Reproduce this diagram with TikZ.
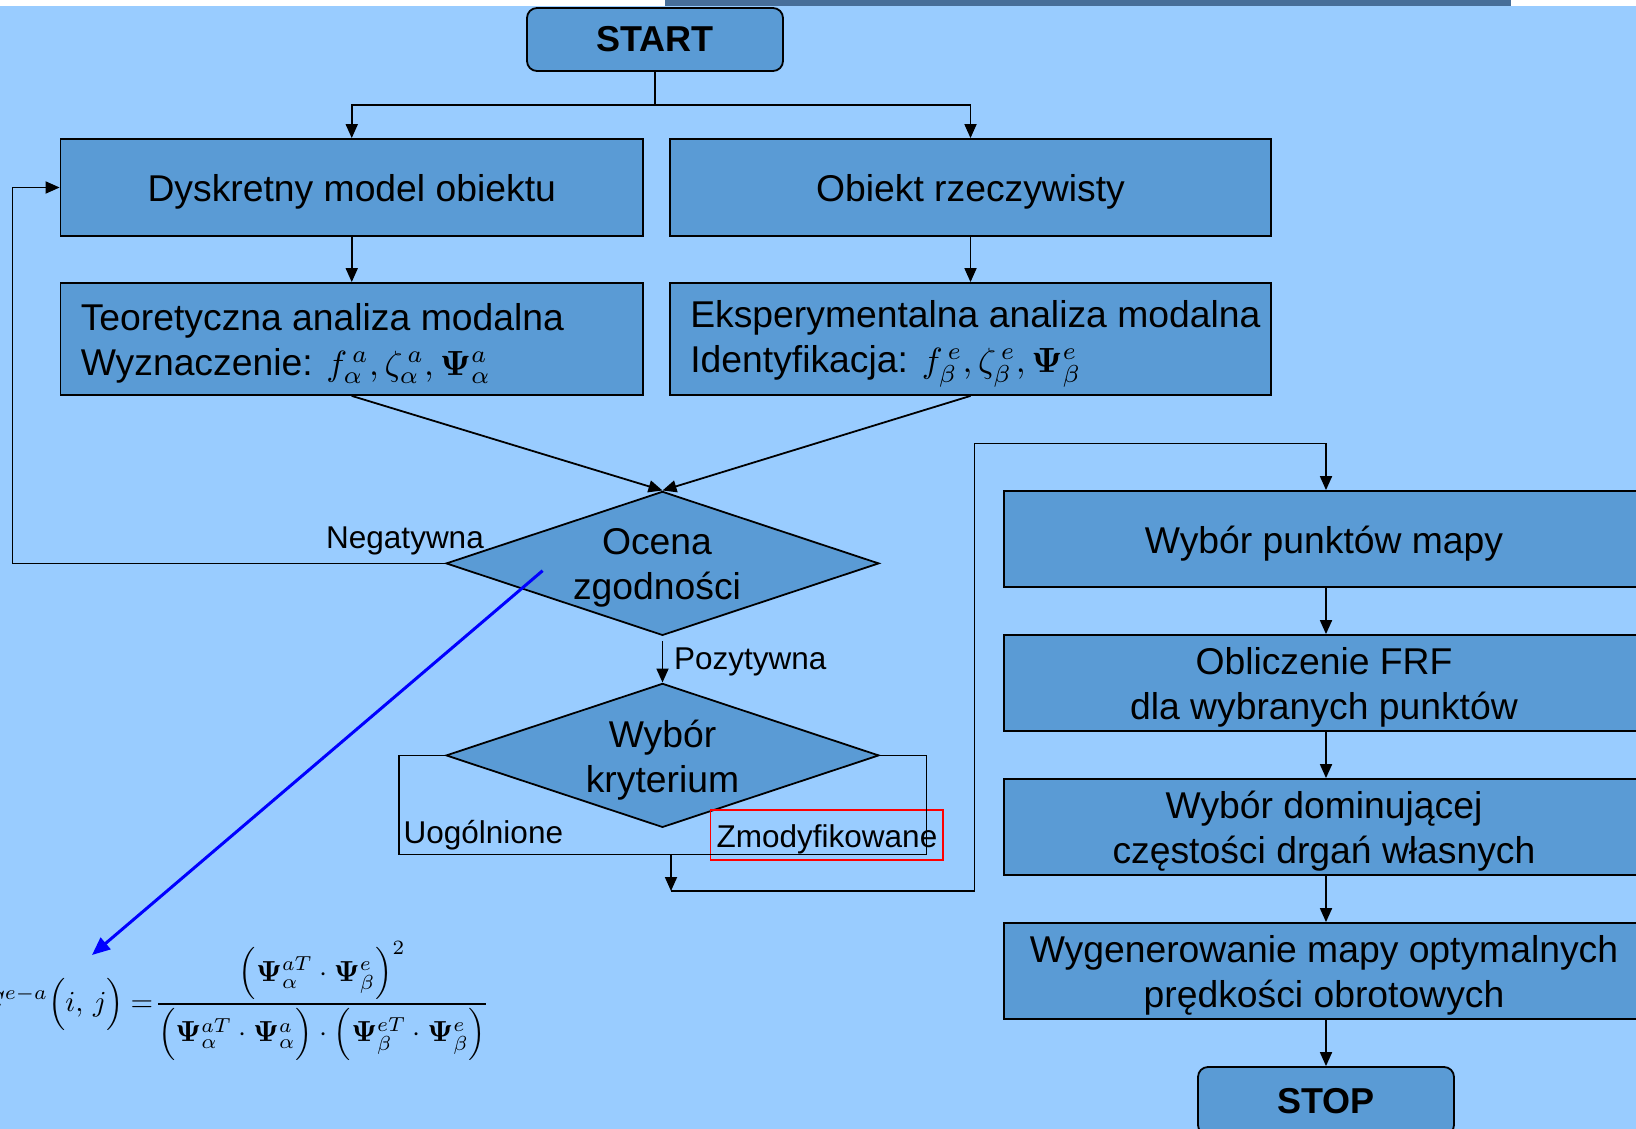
\documentclass[tikz,border=0pt]{standalone}
\usepackage{amsmath}
\usepackage{graphicx}
\usepackage[no-math]{fontspec}
\setmainfont{Liberation Sans}
\usetikzlibrary{arrows.meta,shapes.geometric}
\definecolor{bgblue}{RGB}{153,204,255}
\definecolor{boxblue}{RGB}{90,155,213}
\definecolor{barblue}{RGB}{71,110,153}
\newcommand{\bigmath}[2]{\scalebox{#1}{\fontsize{10}{12}\selectfont$#2$}}
\newcommand{\psph}{\vphantom{\mathbf{\Psi}^{eT}_{\beta}}}
\begin{document}
\begin{tikzpicture}[x=1pt,y=-1pt,
  lbl/.style={font=\fontsize{31.5}{38}\selectfont, inner sep=0pt},
  box/.style={draw=black, line width=1.8pt, fill=boxblue, inner sep=0pt},
  txt/.style={font=\fontsize{37.3}{45}\selectfont, inner sep=0pt, align=center, yshift=-4.5pt},
  term/.style={box, rounded corners=10pt, font=\fontsize{36}{44}\selectfont\bfseries},
  dia/.style={draw=black, line width=1.8pt, fill=boxblue, diamond, inner sep=0pt, minimum width=433pt, minimum height=144pt},
  ln/.style={draw=black, line width=1.8pt},
  arr/.style={ln, -{Triangle[length=14pt,width=12pt]}},
  bluearr/.style={draw={rgb,255:red,0;green,0;blue,255}, line width=3pt, -{Triangle[length=18pt,width=15pt]}},
]
\useasboundingbox (0,0) rectangle (1636,1129);
\clip (0,0) rectangle (1636,1129);
\fill[bgblue] (0,0) rectangle (1636,1129);
\fill[white] (0,0) rectangle (1636,6);
\fill[barblue] (665,0) rectangle (1511,6);

% terminals
\node[term, minimum width=256pt, minimum height=63pt] (start) at (655,39.5) {START};
\node[term, minimum width=256pt, minimum height=68pt] (stop) at (1326,1101) {STOP};

% left/right upper boxes
\node[box, minimum width=582.5pt, minimum height=97pt] (dysk) at (351.75,187.5) {};
\node[txt] (dysktxt) at (dysk) {Dyskretny model obiektu};
\node[box, minimum width=601pt, minimum height=97pt] (obiekt) at (970.5,187.5) {};
\node[txt] (obiekttxt) at (obiekt) {Obiekt rzeczywisty};
\node[box, minimum width=582.5pt, minimum height=112pt] (teor) at (351.75,339) {};
\node[txt, anchor=west, align=left] (teortxt) at ([xshift=21pt]teor.west)
  {Teoretyczna analiza modalna\\Wyznaczenie: \bigmath{3.5}{f^{\,a}_{\alpha}, \zeta^{\,a}_{\alpha}, \mathbf{\Psi}^{a}_{\alpha}}};
\node[box, minimum width=601pt, minimum height=112pt] (eksp) at (970.5,339) {};
\node[txt, anchor=west, align=left] (eksptxt) at ([xshift=21pt]eksp.west)
  {Eksperymentalna analiza modalna\\Identyfikacja: \bigmath{3.5}{f^{\,e}_{\beta},\zeta^{\,e}_{\beta},\mathbf{\Psi}^{e}_{\beta}}};

% diamonds
\node[dia] (ocena) at (662.5,563.4) {};
\node[txt] (ocenatxt) at (657,563.4) {Ocena\\zgodności};
\node[dia] (wybk) at (662.5,755.4) {};
\node[txt] (wybktxt) at (662.5,755.4) {Wybór\\kryterium};

% right column
\node[box, minimum width=644pt, minimum height=96pt] (wpm) at (1326,539) {};
\node[txt] (wpmtxt) at (1324,539) {Wybór punktów mapy};
\node[box, minimum width=644pt, minimum height=96pt] (obl) at (1326,683) {};
\node[txt] (obltxt) at (1324,683) {Obliczenie FRF\\dla wybranych punktów};
\node[box, minimum width=644pt, minimum height=96pt] (dom) at (1326,827) {};
\node[txt] (domtxt) at (1324,827) {Wybór dominującej\\częstości drgań własnych};
\node[box, minimum width=644pt, minimum height=96pt] (wyg) at (1326,971) {};
\node[txt] (wygtxt) at (1324,971) {Wygenerowanie mapy optymalnych\\prędkości obrotowych};

% labels
\node[lbl, anchor=east] (neg) at (484,541) {Negatywna};
\node[lbl, anchor=west] (poz) at (674,662) {Pozytywna};
\node[lbl, anchor=west] (uog) at (403.5,835) {Uogólnione};
\node[draw=red, line width=1.5pt, minimum width=232.5pt, minimum height=50pt, inner sep=0pt] (zmodbox) at (826.75,835) {};
\node[lbl] (zmod) at (827,839) {Zmodyfikowane};

% formula
\node[anchor=east, inner sep=0pt] (formula) at (490,1001)
 {\bigmath{2.9}{\displaystyle C^{e-a}\Bigl(i,\,j\Bigr)\mskip4mu{=}\mskip1mu\frac{\left(\mathbf{\Psi}^{aT}_{\alpha}\cdot\mathbf{\Psi}^{e}_{\beta}\psph\right)^{2}}{\left(\mathbf{\Psi}^{aT}_{\alpha}\cdot\mathbf{\Psi}^{a}_{\alpha}\psph\right)\cdot\left(\mathbf{\Psi}^{eT}_{\beta}\cdot\mathbf{\Psi}^{e}_{\beta}\psph\right)}}};

% coordinates
\coordinate (split) at (655,105);
\coordinate (leftx) at (12.5,0);
\coordinate (kl) at (398.6,854.5);
\coordinate (kr) at (926.5,854.5);
\coordinate (kmid) at (671,854.5);
\coordinate (join) at (671,891);
\coordinate (riser) at (974.5,443.5);
\coordinate (bluestart) at (542.6,570.7);
\coordinate (blueend) at (92,955);

% connectors
\draw[ln] (start.south) -- (split);
\draw[arr] (split) -| (dysk.north);
\draw[arr] (split) -| (obiekt.north);
\draw[arr] (dysk.south) -- (teor.north);
\draw[arr] (obiekt.south) -- (eksp.north);
\draw[arr] (teor.south) -- (ocena.north);
\draw[arr] (eksp.south) -- (ocena.north);
\draw[arr] (ocena.west) -- (ocena.west -| leftx) |- (dysk.west);
\draw[arr, shorten <=5pt] (ocena.south) -- (wybk.north);
\draw[ln] (wybk.west) -| (kl) -- (kr) |- (wybk.east);
\draw[arr] (kmid) -- (join);
\draw[arr] (join) -| (riser) -| (wpm.north);
\draw[arr] (wpm.south) -- (obl.north);
\draw[arr] (obl.south) -- (dom.north);
\draw[arr] (dom.south) -- (wyg.north);
\draw[arr] (wyg.south) -- (stop.north);
\draw[bluearr] (bluestart) -- (blueend);
\end{tikzpicture}
\end{document}
